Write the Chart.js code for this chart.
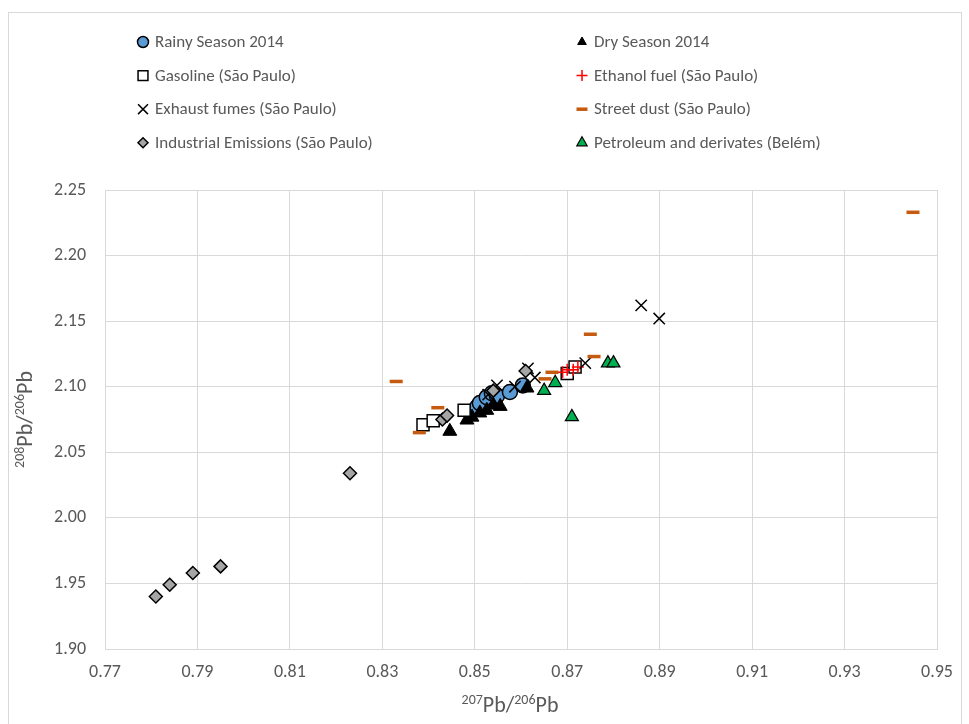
<!DOCTYPE html>
<html>
<head>
<meta charset="utf-8">
<script src="https://cdn.jsdelivr.net/npm/chart.js@4.4.0/dist/chart.umd.min.js"></script>
<style>
  body { margin: 0; background: #fff; }
  #wrap { position: relative; width: 969px; height: 724px; overflow: hidden; }
  #frame { position: absolute; left: 8px; top: 12px; width: 952px; height: 760px; border: 1px solid #d9d9d9; }
  canvas { position: absolute; left: 0; top: 0; }
</style>
</head>
<body>
<div id="wrap"><div id="frame"></div><canvas id="c" width="969" height="724"></canvas></div>
<script>
// 207Pb/206Pb (x) vs 208Pb/206Pb (y), one array per series
const rainySeason = [
  [0.8505, 2.0845], [0.8511, 2.0875], [0.8526, 2.092], [0.8537, 2.095],
  [0.8548, 2.093], [0.8576, 2.096], [0.8604, 2.101]
];
const drySeason = [
  [0.8446, 2.066], [0.8483, 2.0746], [0.8494, 2.0768], [0.8511, 2.080],
  [0.8526, 2.082], [0.8540, 2.086], [0.8555, 2.085], [0.8613, 2.099]
];
const gasoline = [
  [0.8388, 2.071], [0.8410, 2.074], [0.8477, 2.082], [0.8700, 2.110], [0.8717, 2.115]
];
const ethanol = [
  [0.8690, 2.111], [0.8700, 2.113], [0.8713, 2.113], [0.8723, 2.115]
];
const exhaust = [
  [0.8529, 2.094], [0.8548, 2.101], [0.8587, 2.100], [0.8615, 2.114],
  [0.8630, 2.107], [0.8739, 2.118], [0.8860, 2.162], [0.8899, 2.152]
];
const streetDust = [
  [0.8330, 2.104], [0.8380, 2.065], [0.8420, 2.084], [0.8652, 2.106],
  [0.8667, 2.111], [0.8750, 2.140], [0.8758, 2.123], [0.9448, 2.233]
];
const industrial = [
  [0.781, 1.940], [0.784, 1.949], [0.789, 1.958], [0.795, 1.963], [0.823, 2.034],
  [0.843, 2.075], [0.844, 2.078], [0.854, 2.097], [0.861, 2.112]
];
const petroleum = [
  [0.8650, 2.097], [0.8674, 2.103], [0.8710, 2.077], [0.8788, 2.118], [0.8800, 2.118]
];

const seriesLabels = [
  'Rainy Season 2014', 'Dry Season 2014',
  'Gasoline (São Paulo)', 'Ethanol fuel (São Paulo)',
  'Exhaust fumes (São Paulo)', 'Street dust (São Paulo)',
  'Industrial Emissions (São Paulo)', 'Petroleum and derivates (Belém)'
];
const seriesData = [rainySeason, drySeason, gasoline, ethanol, exhaust, streetDust, industrial, petroleum];

const xTicks = { min: 0.77, max: 0.95, step: 0.02 };
const yTicks = { min: 1.90, max: 2.25, step: 0.05 };

// axis titles: [text, superscript?]
const xTitle = [['207', true], ['Pb/', false], ['206', true], ['Pb', false]];
const yTitle = [['208', true], ['Pb/', false], ['206', true], ['Pb', false]];

const FONT = 'Carlito, Calibri, Lato, sans-serif';
const GREY_TEXT = '#595959';
const GRID = '#d9d9d9';

// marker styles, same order as seriesLabels
const styles = [
  { pointStyle: 'circle',   radius: 7.5, bg: '#5b9bd5', border: '#000', bw: 1.5, lr: 5.5 },
  { pointStyle: 'triangle', radius: 8,   bg: '#000',    border: '#000', bw: 1,   lr: 5 },
  { pointStyle: 'rect',     radius: 8.5, bg: '#fff',    border: '#000', bw: 1.5, lr: 7 },
  { pointStyle: 'cross',    radius: 6,   bg: '#ff0000', border: '#ff0000', bw: 1.5, lr: 5.5 },
  { pointStyle: 'crossRot', radius: 8,   bg: '#000',    border: '#000', bw: 1.5, lr: 7 },
  { pointStyle: 'line',     radius: 6.5, bg: '#c55a11', border: '#c55a11', bw: 3.5, lr: 5.5 },
  { pointStyle: 'rectRot',  radius: 6.5, bg: '#a5a5a5', border: '#000', bw: 1.5, lr: 5 },
  { pointStyle: 'triangle', radius: 7.5, bg: '#00b050', border: '#000', bw: 1.2, lr: 6 }
];

const datasets = seriesData.map((pts, i) => ({
  label: seriesLabels[i],
  data: pts.map(p => ({ x: p[0], y: p[1] })),
  pointStyle: styles[i].pointStyle,
  pointRadius: styles[i].radius,
  pointBackgroundColor: styles[i].bg,
  pointBorderColor: styles[i].border,
  pointBorderWidth: styles[i].bw,
  backgroundColor: styles[i].bg,
  borderColor: styles[i].border,
  order: seriesData.length - i   // later series on top, like Excel
}));

// two-column legend drawn above the plot
const gridLegend = {
  id: 'gridLegend',
  afterDraw(chart) {
    const ctx = chart.ctx;
    const colX = [143, 582];
    seriesLabels.forEach((label, i) => {
      const x = colX[i % 2];
      const y = 42 + Math.floor(i / 2) * 33.6;
      const s = styles[i];
      ctx.save();
      ctx.fillStyle = s.bg;
      ctx.strokeStyle = s.border;
      ctx.lineWidth = s.bw;
      Chart.helpers.drawPoint(ctx, { pointStyle: s.pointStyle, radius: s.lr, rotation: 0, borderWidth: s.bw }, x, y);
      ctx.fillStyle = GREY_TEXT;
      ctx.font = '17px ' + FONT;
      ctx.textBaseline = 'middle';
      ctx.fillText(label, x + 12, y + 1);
      ctx.restore();
    });
  }
};

// axis titles with superscript isotope numbers
function drawRich(ctx, parts, cx, cy, angle) {
  const big = '22px ' + FONT, small = '14px ' + FONT;
  let total = 0;
  parts.forEach(p => { ctx.font = p[1] ? small : big; total += ctx.measureText(p[0]).width; });
  ctx.save();
  ctx.translate(cx, cy);
  ctx.rotate(angle);
  ctx.fillStyle = GREY_TEXT;
  ctx.textBaseline = 'alphabetic';
  let x = -total / 2;
  parts.forEach(p => {
    ctx.font = p[1] ? small : big;
    ctx.fillText(p[0], x, p[1] ? 0 : 8);
    x += ctx.measureText(p[0]).width;
  });
  ctx.restore();
}
const axisTitles = {
  id: 'axisTitles',
  afterDraw(chart) {
    const a = chart.chartArea;
    drawRich(chart.ctx, xTitle, 510, 704, 0);
    drawRich(chart.ctx, yTitle, 24, (a.top + a.bottom) / 2, -Math.PI / 2);
  }
};

new Chart(document.getElementById('c'), {
  type: 'scatter',
  data: { datasets },
  plugins: [gridLegend, axisTitles],
  options: {
    responsive: false,
    animation: false,
    layout: { padding: { top: 190, right: 32, bottom: 0, left: 0 } },
    plugins: { legend: { display: false }, tooltip: { enabled: false } },
    scales: {
      x: {
        type: 'linear',
        min: xTicks.min, max: xTicks.max,
        afterFit(scale) { scale.height = 75; },
        grid: { color: GRID, lineWidth: 1, drawTicks: false },
        border: { color: GRID },
        ticks: {
          stepSize: xTicks.step, padding: 13, color: GREY_TEXT,
          font: { family: FONT, size: 18 },
          callback: v => v.toFixed(2)
        }
      },
      y: {
        type: 'linear',
        min: yTicks.min, max: yTicks.max,
        afterFit(scale) { scale.width = 105; },
        grid: { color: GRID, lineWidth: 1, drawTicks: false },
        border: { color: GRID },
        ticks: {
          stepSize: yTicks.step, padding: 19, color: GREY_TEXT,
          font: { family: FONT, size: 18 },
          callback: v => v.toFixed(2)
        }
      }
    }
  }
});
</script>
</body>
</html>
